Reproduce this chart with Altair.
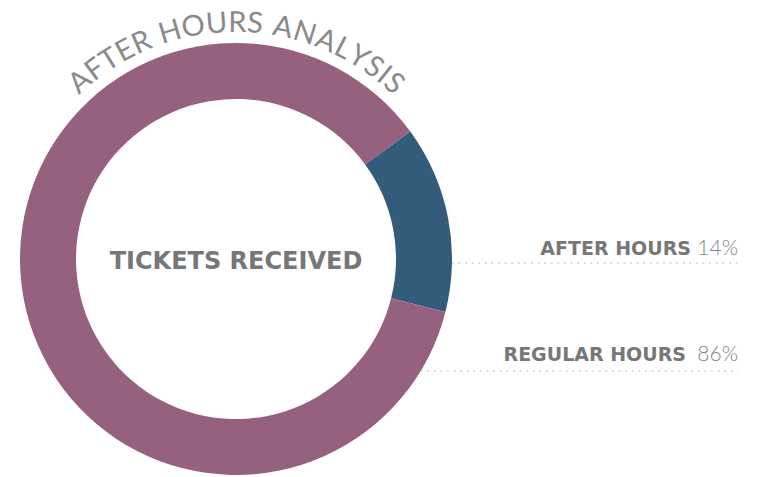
import math
import altair as alt
import pandas as pd

# ---- data ----
segments = ["AFTER HOURS", "REGULAR HOURS"]
shares = [14, 86]
seg_colors = ["#335C7A", "#96617F"]
center_label = "TICKETS RECEIVED"
title_text = "AFTER HOURS ANALYSIS"

# ---- layout (pixels) ----
W, H = 456, 432
PAD = {"left": 0, "top": 35, "right": 287, "bottom": 0}
CX, CY = W / 2, H / 2
R_OUT, R_IN = 216, 160
START_DEG = 53.8
label_y = [212, 318]          # baselines of right-hand labels
line_y = [220, 328]           # dotted leader lines
label_gap = [8, 13]           # space between label and percentage
pct_right = 730
pct_width = 39
line_end = 730

BOLD_FONT = "DejaVu Sans"
LIGHT_FONT = "Lato"

# title along an arc
TITLE_FS = 29
TITLE_R = 227
TRACK = 0.04
char_w = {"A": .68, "F": .52, "T": .56, "E": .55, "R": .60, " ": .26, "H": .72,
          "O": .78, "U": .70, "S": .50, "N": .74, "L": .48, "Y": .62, "I": .28}

adv = [(char_w[c] + TRACK) * TITLE_FS for c in title_text]
total = sum(adv)
rows = []
acc = 0.0
for c, a in zip(title_text, adv):
    s = acc + a / 2 - total / 2
    acc += a
    t = s / TITLE_R
    rows.append({"ch": c, "t": t, "r": TITLE_R, "rot": math.degrees(t) % 360})
title_df = pd.DataFrame(rows)

arc_df = pd.DataFrame({"segment": segments, "share": shares, "idx": [0, 1]})
s0 = math.radians(START_DEG)

arcs = alt.Chart(arc_df).mark_arc(innerRadius=R_IN, outerRadius=R_OUT).encode(
    theta=alt.Theta("share:Q", stack=True, scale=alt.Scale(range=[s0, s0 + 2 * math.pi])),
    color=alt.Color("segment:N", scale=alt.Scale(domain=segments, range=seg_colors), legend=None),
    order=alt.Order("idx:Q"),
)

title_chars = alt.Chart(title_df).mark_text(
    font="Lato", fontSize=TITLE_FS, fontWeight=400, color="#8a8a8a",
    align="center", baseline="alphabetic",
).encode(
    text="ch:N",
    theta=alt.Theta("t:Q", scale=None),
    radius=alt.Radius("r:Q", scale=None),
    angle=alt.Angle("rot:Q", scale=None),
)

center = alt.Chart(pd.DataFrame({"txt": [center_label]})).mark_text(
    font=BOLD_FONT, fontSize=24, fontWeight=700, color="#777777",
    align="center", baseline="middle",
).encode(text="txt:N", x=alt.value(CX), y=alt.value(CY + 3))

lab_df = pd.DataFrame({
    "name": segments,
    "pct": [f"{p}%" for p in shares],
    "ly": label_y,
    "liney": line_y,
    "px": [pct_right] * 2,
    "nx": [pct_right - pct_width - g for g in label_gap],
    "x0": [CX + math.sqrt(R_OUT**2 - (y - CY) ** 2) for y in line_y],
    "x1": [line_end] * 2,
})

rules = alt.Chart(lab_df).mark_rule(
    color="#c8c8c8", strokeWidth=1.6, strokeDash=[1.6, 5]
).encode(
    x=alt.X("x0:Q", scale=None), x2="x1:Q", y=alt.Y("liney:Q", scale=None)
)

pcts = alt.Chart(lab_df).mark_text(
    font=LIGHT_FONT, fontSize=21, fontWeight=300, color="#858585",
    align="right", baseline="alphabetic",
).encode(text="pct:N", x=alt.X("px:Q", scale=None), y=alt.Y("ly:Q", scale=None))

names = alt.Chart(lab_df).mark_text(
    font=BOLD_FONT, fontSize=19, fontWeight=700, color="#777777",
    align="right", baseline="alphabetic",
).encode(text="name:N", x=alt.X("nx:Q", scale=None), y=alt.Y("ly:Q", scale=None))

chart = alt.layer(arcs, title_chars, center, rules, names, pcts).resolve_scale(
    theta="independent", radius="independent"
).properties(
    width=W, height=H, padding=PAD, autosize="none", background="white"
).configure_view(stroke=None)

chart.save("out.html", embed_options={"renderer": "svg", "actions": False})
